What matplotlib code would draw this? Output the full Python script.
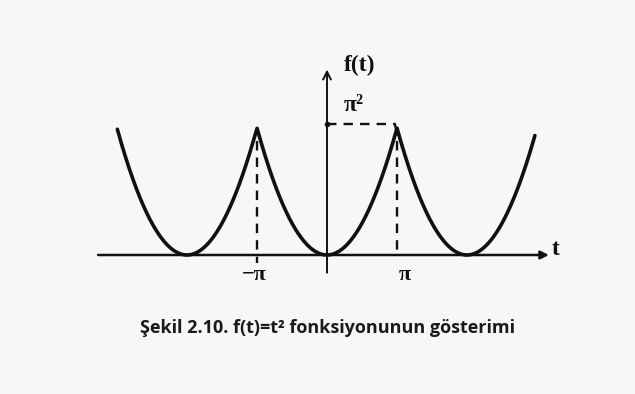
import numpy as np
import matplotlib.pyplot as plt

# values (t in units of pi, f in units of pi^2)
period = 2 * np.pi
peak_value = np.pi ** 2
curve_start = -2.995 * np.pi
curve_end = 2.97 * np.pi
tick_positions = [-np.pi, np.pi]
tick_labels = ['−π', 'π']
caption = 'Şekil 2.10. f(t)=t² fonksiyonunun gösterimi'

# pixel mapping of the original image: origin at (327, 255), 70 px per pi, 127 px per pi^2
W, H = 635, 394
x0, y0 = 327, 255
px_t = 70 / np.pi
px_f = 127 / peak_value


def periodic_square(t):
    s = np.mod(t + period / 2, period) - period / 2
    return s ** 2


fig = plt.figure(figsize=(W / 100, H / 100), dpi=100)
fig.patch.set_facecolor('#f7f7f7')
ax = fig.add_axes([0, 0, 1, 1])
ax.set_facecolor('#f7f7f7')
ax.set_xlim(-x0 / px_t, (W - x0) / px_t)
ax.set_ylim(-(H - y0) / px_f, y0 / px_f)
ax.axis('off')

ink = '#111111'
serif = ['Liberation Serif', 'DejaVu Serif']

# the curve
t = np.linspace(curve_start, curve_end, 2000)
ax.plot(t, periodic_square(t), color=ink, lw=2.6, solid_capstyle='round')

# axes with arrows
ax.annotate('', xy=(3.17 * np.pi, 0), xytext=(-3.27 * np.pi, 0),
            arrowprops=dict(arrowstyle='-|>', color=ink, lw=1.8,
                            mutation_scale=12, shrinkA=0, shrinkB=0))
ax.annotate('', xy=(0, 1.46 * peak_value), xytext=(0, -0.14 * peak_value),
            arrowprops=dict(arrowstyle='->', color=ink, lw=1.4,
                            mutation_scale=14, shrinkA=0, shrinkB=0))

# dashed guides
ax.plot([0, 0.97 * np.pi], [1.03 * peak_value, 1.03 * peak_value],
        color=ink, lw=1.7, ls=(0, (4, 3)))
ax.plot([0.97 * np.pi, np.pi], [1.03 * peak_value, 0.95 * peak_value],
        color=ink, lw=1.7)
ax.plot([np.pi, np.pi], [0.9 * peak_value, 0], color=ink, lw=1.7, ls=(0, (4, 3)))
ax.plot([-np.pi, -np.pi], [0.9 * peak_value, -0.06 * peak_value],
        color=ink, lw=1.7, ls=(0, (4, 3)))
ax.plot([0], [1.03 * peak_value], marker='o', ms=3, color=ink)

# labels
for pos, lab, dx in zip(tick_positions, tick_labels, [-0.04, 0.11]):
    ax.text(pos + dx * np.pi, -0.16 * peak_value, lab, ha='center', va='center',
            fontsize=16, fontweight='bold', family=serif, color=ink)
ax.text(3.26 * np.pi, 0.04 * peak_value, 't', ha='center', va='center',
        fontsize=17, fontweight='bold', family=serif, color=ink)
ax.text(0.46 * np.pi, 1.49 * peak_value, 'f(t)', ha='center', va='center',
        fontsize=17, fontweight='bold', family=serif, color=ink)
ax.text(0.38 * np.pi, 1.18 * peak_value, 'π²', ha='center', va='center',
        fontsize=17, fontweight='bold', family=serif, color=ink)

# caption
fig.text(0.515, 1 - 328 / H, caption, ha='center', va='center',
         fontsize=13, fontweight='bold', family=['Open Sans', 'DejaVu Sans'],
         color='#1a1a1a')

fig.savefig('out.png', dpi=100, facecolor=fig.get_facecolor())
